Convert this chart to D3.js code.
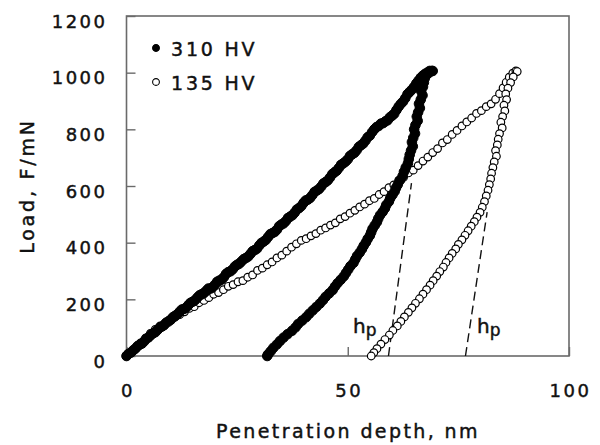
<!DOCTYPE html>
<html>
<head>
<meta charset="utf-8">
<script src="https://cdn.jsdelivr.net/npm/d3@7"></script>
<style>
  body { margin: 0; background: #fff; }
  svg { display: block; }
  text { font-family: "DejaVu Sans", sans-serif; fill: #111; stroke: #111; stroke-width: 0.45px; }
</style>
</head>
<body>
<div id="viz"></div>
<script>
// load-depth curves, [depth nm, load mN]
let hard = ["310 HV"];
let soft = ["135 HV"];

let hardLoading = [
  [0,0],[0.5,8],[1,12],[1.5,20],[2,26],[2.5,35],[3,40],[3.5,44],[4,52],[4.5,61],[5,66],[5.5,74],
  [6,80],[6.5,84],[7,92],[7.5,100],[8,104],[8.5,109],[9,118],[9.5,122],[10,128],[10.5,137],
  [11,142],[11.5,147],[12,156],[12.5,164],[13,166],[13.5,171],[14,180],[14.5,188],[15,192],
  [15.5,197],[16,206],[16.5,214],[17,218],[17.5,222],[18,230],[18.5,238],[19,238],[19.5,243],
  [20,252],[20.5,262],[21,266],[21.5,270],[22,278],[22.5,290],[23,296],[23.5,299],[24,306],
  [24.5,316],[25,322],[25.5,326],[26,334],[26.5,342],[27,346],[27.5,351],[28,360],[28.5,370],
  [29,374],[29.5,379],[30,390],[30.5,399],[31,404],[31.5,410],[32,420],[32.5,430],[33,434],
  [33.5,438],[34,446],[34.5,458],[35,464],[35.5,468],[36,476],[36.5,487],[37,492],[37.5,497],
  [38,506],[38.5,517],[39,522],[39.5,529],[40,540],[40.5,549],[41,552],[41.5,558],[42,568],
  [42.5,579],[43,584],[43.5,589],[44,598],[44.5,609],[45,614],[45.5,620],[46,630],[46.5,642],
  [47,648],[47.5,654],[48,664],[48.5,675],[49,680],[49.5,686],[50,694],[50.5,706],[51,712],
  [51.5,717],[52,726],[52.5,738],[53,744],[53.5,750],[54,760],[54.5,772],[55,778],[55.5,790],
  [56,800],[56.5,808],[57,812],[57.5,820],[58,822],[58.5,828],[59,832],[59.5,842],[60,848],
  [60.5,855],[61,868],[61.5,880],[62,890],[62.5,898],[63,910],[63.5,924],[64,932],[64.5,940],
  [65,950],[65.5,962],[66,972],[66.5,982],[67,990],[67.5,996],[68,1000],[68.5,1006],[69,1006]
];

let hardUnloading = [
  [69.2,1006],[68.4,1000],[67.8,992],[67.4,980],[67.2,965],[67.0,950],[66.6,935],[66.9,920],
  [66.5,905],[66.1,890],[66.3,875],[65.9,860],[65.6,845],[65.8,830],[65.3,815],[65.0,800],
  [65.2,785],[64.8,770],[64.5,755],[64.7,740],[64.3,725],[64.0,710],[63.8,695],[63.6,680],
  [63.1,665],[62.7,650],[62.4,635],[61.8,620],[61.3,605],[60.9,593],[60.6,581],[60.1,569],
  [59.6,557],[59.3,545],[58.7,533],[58.4,521],[57.9,509],[57.3,497],[56.9,485],[56.6,473],
  [56.1,461],[55.6,449],[55.3,437],[55.0,425],[54.5,413],[54.1,401],[53.6,389],[53.2,377],
  [52.7,365],[52.1,353],[51.7,341],[51.3,329],[50.6,317],[50.1,305],[49.6,293],[49.1,281],
  [48.4,269],[47.7,257],[47.1,245],[46.6,233],[45.8,221],[45.0,209],[44.4,197],[43.7,185],
  [42.9,173],[42.1,161],[41.3,149],[40.6,137],[39.7,125],[38.8,113],[38.2,101],[37.4,89],
  [36.4,77],[35.5,65],[34.7,53],[34.0,41],[33.2,29],[32.6,17],[32.0,6],[31.8,0]
];

let softLoading = [
  [0,0],[1.0,12],[2.1,28],[3.2,46],[4.3,63],[5.4,80],[6.5,94],[7.6,106],[8.7,116],[9.8,128],
  [10.9,136],[12.0,146],[13.1,156],[14.2,168],[15.3,174],[16.4,188],[17.5,196],[18.6,206],
  [19.7,218],[20.8,224],[21.9,234],[23.0,246],[24.1,252],[25.2,262],[26.3,266],[27.4,278],
  [28.5,286],[29.6,302],[30.7,310],[31.8,322],[32.9,332],[34.0,346],[35.1,356],[36.2,370],
  [37.3,384],[38.4,396],[39.5,408],[40.6,414],[41.7,424],[42.8,432],[43.9,444],[45.0,452],
  [46.1,462],[47.2,470],[48.3,484],[49.4,492],[50.5,504],[51.6,514],[52.7,526],[53.8,536],
  [54.9,548],[56.0,556],[57.1,570],[58.2,580],[59.3,594],[60.4,604],[61.5,620],[62.6,630],
  [63.7,646],[64.8,656],[65.9,672],[67.0,688],[68.1,702],[69.2,718],[70.3,732],[71.4,752],
  [72.5,764],[73.6,782],[74.7,796],[75.8,812],[76.9,826],[78.0,840],[79.1,856],[80.2,866],
  [81.3,880],[82.4,890],[83.4,906],[84.3,926],[85.1,946],[85.8,966],[86.5,984],[87.3,998],
  [88.0,1006]
];

let softUnloading = [
  [88.3,1004],[87.4,985],[86.8,965],[86.2,945],[85.7,925],[85.9,905],[85.3,885],[85.5,865],
  [85.0,845],[84.6,825],[84.9,805],[84.3,785],[84.0,765],[83.8,745],[83.4,725],[83.6,705],
  [83.1,685],[82.8,665],[82.5,645],[82.3,625],[82.0,605],[81.7,585],[81.3,565],[80.9,545],
  [80.4,525],[79.9,507],[79.2,490],[78.6,474],[77.9,458],[77.2,442],[76.5,426],[75.8,410],
  [75.0,394],[74.4,378],[73.6,362],[72.9,346],[72.2,330],[71.6,314],[70.8,298],[70.1,282],
  [69.3,266],[68.6,250],[67.8,234],[67.0,218],[66.2,202],[65.3,186],[64.5,170],[63.7,154],
  [62.8,138],[62.0,122],[61.2,106],[60.2,90],[59.4,74],[58.4,58],[57.5,42],[56.6,26],
  [55.9,12],[55.3,0]
];

// tangent lines at the start of unloading and the hp labels
let tangents = [
  [[59.2,0],[64.4,610]],
  [[76.6,0],[81.5,508]]
];
let hpLabels = [[51.2,81],[79.2,81]];

let xTicks = [0, 50, 100];
let yTicks = [0, 200, 400, 600, 800, 1000, 1200];

let w = 600;
let h = 445;
let mLeft = 126.5, mRight = 569, mTop = 16, mBottom = 356;

let svg = d3.select("#viz").append("svg")
  .attr("width", w)
  .attr("height", h);

let x = d3.scaleLinear().domain([0, 100]).range([mLeft, mRight]);
let y = d3.scaleLinear().domain([0, 1200]).range([mBottom, mTop]);

let axisColor = "#6a6a6a";

// frame
svg.append("rect")
  .attr("x", mLeft).attr("y", mTop)
  .attr("width", mRight - mLeft).attr("height", mBottom - mTop)
  .attr("fill", "none")
  .attr("stroke", axisColor)
  .attr("stroke-width", 1.6);

// ticks point inward
let xAxis = d3.axisBottom(x).tickValues(xTicks).tickSize(-9).tickPadding(28).tickFormat(d3.format("d"));
let yAxis = d3.axisLeft(y).tickValues(yTicks).tickSize(-9).tickPadding(21).tickFormat(d3.format("d"));

let gx = svg.append("g").attr("transform", "translate(0," + mBottom + ")").call(xAxis);
let gy = svg.append("g").attr("transform", "translate(" + mLeft + ",0)").call(yAxis);

[gx, gy].forEach(g => {
  g.select(".domain").remove();
  g.selectAll(".tick line").attr("stroke", axisColor).attr("stroke-width", 1.4);
  g.selectAll(".tick text")
    .attr("fill", "#111")
    .style("font-family", "'DejaVu Sans', sans-serif")
    .style("font-size", "18px")
    .style("letter-spacing", "2.5px");
});
gy.selectAll(".tick text").attr("dy", "0.62em").attr("x", -19);
gx.selectAll(".tick text").attr("dx", "1px");

// axis titles
svg.append("text")
  .attr("x", 348).attr("y", 438)
  .attr("text-anchor", "middle")
  .style("font-size", "19px")
  .style("letter-spacing", "2.4px")
  .text("Penetration depth, nm");

svg.append("text")
  .attr("transform", "translate(34,186) rotate(-90)")
  .attr("text-anchor", "middle")
  .style("font-size", "19px")
  .style("letter-spacing", "2.8px")
  .text("Load, F/mN");

// tangent lines
svg.selectAll(".tangent")
  .data(tangents)
  .enter().append("line")
  .attr("class", "tangent")
  .attr("x1", d => x(d[0][0])).attr("y1", d => y(d[0][1]))
  .attr("x2", d => x(d[1][0])).attr("y2", d => y(d[1][1]))
  .attr("stroke", "#111")
  .attr("stroke-width", 1.4)
  .attr("stroke-dasharray", "9,5");

// markers
function drawPoints(data, filled, cls) {
  svg.append("g").attr("class", cls)
    .selectAll("circle")
    .data(data)
    .enter().append("circle")
    .attr("cx", d => x(d[0]))
    .attr("cy", d => y(d[1]))
    .attr("r", filled ? 4.8 : 3.8)
    .attr("fill", filled ? "#000" : "#fff")
    .attr("stroke", "#000")
    .attr("stroke-width", filled ? 1 : 1.2);
}
drawPoints(softLoading, false, "soft");
drawPoints(softUnloading, false, "soft");
drawPoints(hardLoading, true, "hard");
drawPoints(hardUnloading, true, "hard");

// hp labels
let hp = svg.selectAll(".hp")
  .data(hpLabels)
  .enter().append("text")
  .attr("class", "hp")
  .attr("x", d => x(d[0]))
  .attr("y", d => y(d[1]))
  .style("font-size", "20px");
hp.append("tspan").text("h");
hp.append("tspan").attr("dy", 3).style("font-size", "17px").text("p");

// legend
let legend = [
  { label: hard[0], filled: true },
  { label: soft[0], filled: false }
];
let lg = svg.selectAll(".legend")
  .data(legend)
  .enter().append("g")
  .attr("class", "legend")
  .attr("transform", (d, i) => "translate(156," + (48 + i * 34) + ")");
lg.append("circle")
  .attr("r", 3.4)
  .attr("fill", d => d.filled ? "#000" : "#fff")
  .attr("stroke", "#000")
  .attr("stroke-width", 1.1);
lg.append("text")
  .attr("x", 15).attr("y", 7.5)
  .style("font-size", "19px")
  .style("letter-spacing", "2.8px")
  .text(d => d.label);
</script>
</body>
</html>
